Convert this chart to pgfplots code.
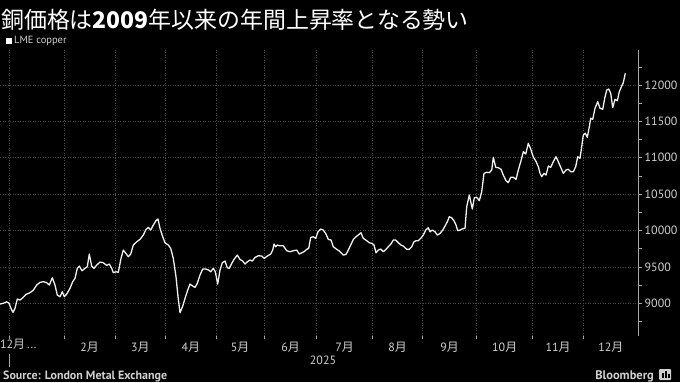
\documentclass[border=0pt]{standalone}
\usepackage{fontspec}
\usepackage{pgfplots}
\pgfplotsset{compat=1.18}
\setmainfont{PT Sans}
\newfontfamily\jp{Noto Sans CJK JP}
\definecolor{gridc}{HTML}{4A4A4A}
\definecolor{tickc}{HTML}{D0D0D0}
\definecolor{axisc}{HTML}{A8A8A8}
\definecolor{linec}{HTML}{F0F0F0}
\newcommand{\m}[1]{#1{\jp 月}}
\begin{document}
\begin{tikzpicture}[x=1bp,y=1bp]
\fill[black] (0,0) rectangle (680,382);
\useasboundingbox (0,0) rectangle (680,382);
\begin{axis}[
  at={(0bp,46bp)}, anchor=south west,
  scale only axis, width=638.5bp, height=286bp,
  xmin=0, xmax=638.5, ymin=8550, ymax=12481,
  axis y line*=right, axis x line*=bottom,
  x axis line style={draw=none},
  y axis line style={draw=axisc, line width=0.8bp, -},
  ytick={9000,9500,...,12000},
  minor ytick={8750,9250,...,12250},
  scaled y ticks=false,
  /pgf/number format/assume math mode=true,
  /pgf/number format/1000 sep={},
  yticklabel style={font=\fontsize{12}{12}\selectfont, text=tickc, inner sep=0pt, xshift=3bp},
  xtick={36.8,89.65,140.35,190.85,240.15,290.5,344.7,397.7,449.7,504.7,558,610.9},
  xticklabels={,\m{2},\m{3},\m{4},\m{5},\m{6},\m{7},\m{8},\m{9},\m{10},\m{11},\m{12}},
  xticklabel style={font=\fontsize{12}{12}\selectfont, text=tickc, inner sep=0pt, yshift=-3bp},
  minor xtick={9.3,64.3,115,165.7,216,264.3,316.7,372.7,422.7,476.7,532.7,583.3},
  every major x tick/.append style={draw=none},
  every minor x tick/.append style={draw=axisc, line width=0.6bp},
  every y tick/.append style={draw=axisc, line width=0.6bp},
  tick align=outside,
  major tick length=3bp, minor tick length=3bp,
  ymajorgrids, xminorgrids,
  major grid style={draw=gridc, line width=0.6bp, dash pattern=on 1bp off 1.5bp},
  minor grid style={draw=gridc, line width=0.6bp, dash pattern=on 1bp off 1.5bp},
  clip=false,
]
\addplot[linec, line width=1.3bp, line join=round] table {
x y
0 8989
3.3 9000
6.7 9020
9 9000
11 8930
13 8875
15 8930
17.3 9058
20 9044
22.7 9075
26 9122
30 9145
33.3 9180
36.7 9250
40 9287
43.3 9296
46.7 9283
49.3 9250
52.3 9350
55 9250
57.3 9113
60 9090
62.3 9158
64.3 9090
66.7 9126
70 9204
72.7 9296
75 9342
77.3 9480
79.3 9511
82 9447
85 9480
87.3 9502
89.3 9676
91.7 9511
94 9480
96.7 9525
100 9566
103.3 9557
106.7 9520
109.3 9539
111.7 9480
113.3 9420
116 9433
118.3 9425
121 9617
123.3 9731
126 9683
128.3 9640
130.7 9676
133.3 9800
136.7 9845
140 9878
143.3 9937
146 10015
148.3 10043
150.7 10006
153.3 10075
156 10134
158 10158
160 10030
162.7 9914
165 9832
168.3 9800
170.7 9755
173.3 9617
176 9365
178 9090
180 8870
182.7 8960
185 9067
187.7 9180
190 9264
192.7 9237
195 9218
197.3 9273
200 9388
202.7 9470
206 9470
208.7 9456
210.7 9433
213.3 9480
215.3 9433
217.7 9264
220 9456
222.3 9557
225 9580
227.3 9488
229.3 9480
231.7 9548
234 9603
237.3 9662
240 9603
242.7 9580
245 9539
247.3 9570
250 9594
252.3 9580
255 9630
258.3 9653
261.7 9649
264.3 9617
267.3 9649
270.7 9676
272.7 9731
274 9814
275.7 9777
277.3 9800
280 9790
283.3 9790
286.7 9722
290 9708
293.3 9722
296.7 9731
299.3 9676
301.7 9694
304 9708
306.7 9741
308.7 9755
310.7 9905
313.3 9914
315.7 9892
318 9983
320.7 10020
323.3 10006
326 9951
328.3 9878
331 9869
333.3 9777
336.7 9741
339.3 9718
343.3 9662
346 9672
348.3 9731
350.7 9800
353.3 9878
356 9914
359 9947
361 9969
363.3 9892
366.7 9860
369.3 9832
372 9823
374 9800
376 9694
378.3 9731
380.7 9745
383.3 9708
386 9741
388.3 9777
390.7 9810
393.3 9869
395.7 9869
398.3 9832
401 9800
403.3 9786
406.7 9741
409.3 9741
411.7 9777
414 9845
416 9860
418.3 9860
420.7 9892
423.3 9937
425.7 10006
428.3 10038
430 9983
432.3 10006
435 9983
437.3 9937
440 9960
442.7 10006
445 10061
447.3 10120
449.3 10189
451.7 10175
454 10134
456 10075
457.7 9997
460 10006
462.7 10024
465 10030
466.7 10327
469.3 10488
472.3 10295
474.3 10451
476.7 10456
479.3 10410
481.7 10533
484 10786
486.7 10800
489.3 10795
491.7 10831
493.3 11006
495.7 10868
498.3 10863
501 10841
503.3 10762
506 10684
508.3 10658
510.7 10731
513.3 10731
516 10703
518.3 10831
521 10959
523.3 11083
525.7 11051
528.3 11198
530.7 11120
533.3 11010
536 10950
538.5 10870
540 10786
541.7 10740
544 10786
546 10762
548.3 10886
550.7 10868
553.3 10946
556 11014
558.3 10946
560.7 10868
563.3 10786
566 10831
568.3 10841
570.7 10808
573.3 10808
575.7 10877
577.7 11014
580 10992
581.7 11152
583.3 11313
585.3 11336
587.3 11281
589.3 11427
590.7 11542
592.7 11528
595 11680
597.7 11771
600 11680
602.7 11666
604.7 11817
606.7 11931
608.7 11945
610.7 11886
612.7 11689
615 11803
617.3 11784
619.3 11908
621.7 11986
623.3 12032
625.3 12161
};
\node[anchor=north west, inner sep=0pt, yshift=-3bp, text=tickc, font=\fontsize{12}{12}\selectfont] at (axis cs:0,8550) {\m{12}\,...};
\end{axis}
% year separator tick and label
\draw[axisc, line width=0.6bp] (9.3,28) -- (9.3,15);
\node[text=tickc, inner sep=0pt, font=\fontsize{12}{12}\selectfont] at (323,22) {2025};
% title
\node[anchor=base west, inner sep=0pt, text=white, font=\fontsize{23}{23}\selectfont\jp] at (1,354) {銅価格は{\bfseries 2009}年以来の年間上昇率となる勢い};
% legend
\fill[white] (5.5,338) rectangle (12,344.5);
\node[anchor=west, inner sep=0pt, text=tickc, font=\fontsize{10.5}{10.5}\selectfont] at (14,341.3) {LME copper};
% source
\node[anchor=base west, inner sep=0pt, text=tickc, font=\fontsize{12}{12}\selectfont\bfseries] at (3,2.5) {Source: London Metal Exchange};
\node[anchor=base east, inner sep=0pt, text=tickc, font=\fontsize{12.5}{12.5}\selectfont\bfseries] at (654,2.5) {Bloomberg};
\fill[tickc, rounded corners=1bp] (659,2) rectangle (671,13);
\fill[black] (662,4) rectangle (663.5,9);
\fill[black] (665,4) rectangle (666.5,11);
\fill[black] (668,4) rectangle (669.5,8);
\end{tikzpicture}
\end{document}
